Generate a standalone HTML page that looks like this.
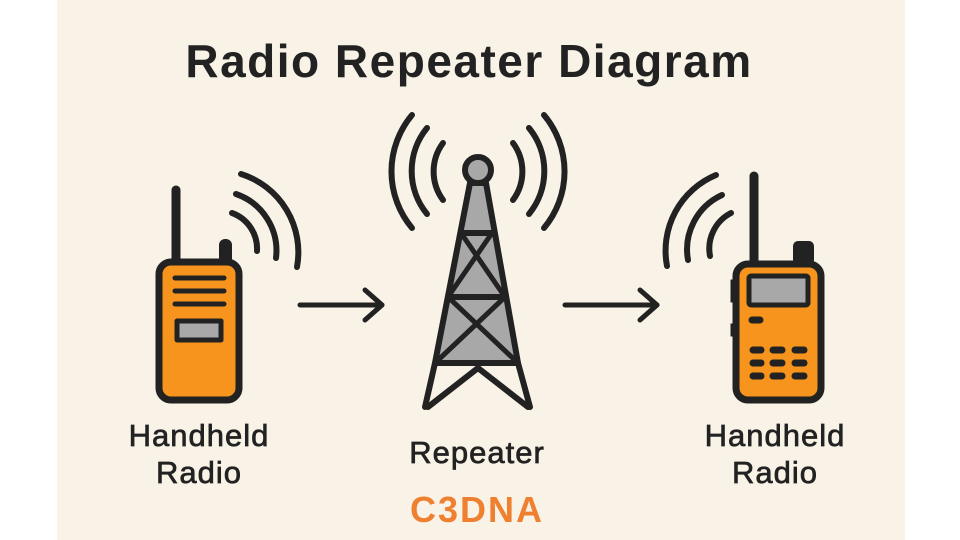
<!DOCTYPE html>
<html><head><meta charset="utf-8"><style>
html,body{margin:0;padding:0;background:#fff;}
svg{display:block;}
text{font-family:"Liberation Sans",sans-serif;}
</style></head><body>
<svg width="960" height="540" viewBox="0 0 960 540" xmlns="http://www.w3.org/2000/svg">
<rect x="57" y="0" width="848" height="540" fill="#f9f2e7"/>
<text x="469" y="77" font-size="46" font-weight="bold" fill="#222" text-anchor="middle" letter-spacing="1.5">Radio Repeater Diagram</text>

<g stroke="#222" stroke-linecap="round" stroke-linejoin="round" fill="none">
<!-- left radio -->
<line x1="176" y1="190" x2="176" y2="262" stroke-width="9"/>
<rect x="220" y="240" width="11" height="24" rx="5" fill="#222" stroke-width="2"/>
<rect x="159" y="262" width="80" height="138" rx="12" fill="#f7941d" stroke-width="7"/>
<line x1="175" y1="278" x2="224" y2="278" stroke-width="5"/>
<line x1="175" y1="291" x2="224" y2="291" stroke-width="5"/>
<line x1="175" y1="304" x2="224" y2="304" stroke-width="5"/>
<rect x="177" y="321" width="44" height="19" fill="#a8a8a8" stroke-width="5"/>
<path d="M232 213 A38 38 0 0 1 257 251" stroke-width="6"/>
<path d="M236 194 A60 60 0 0 1 276 258" stroke-width="6"/>
<path d="M241 174 A82 82 0 0 1 297 267" stroke-width="6"/>
<!-- arrows -->
<line x1="300" y1="305" x2="382" y2="305" stroke-width="5"/>
<polyline points="365,290 382,305 365,320" stroke-width="5"/>
<line x1="565" y1="305" x2="657" y2="305" stroke-width="5"/>
<polyline points="640,290 657,305 640,320" stroke-width="5"/>
<!-- tower -->
<polygon points="470,183 486,183 518,363 435,363" fill="#a8a8a8" stroke-width="6"/>
<line x1="461" y1="233" x2="492" y2="233" stroke-width="6"/>
<line x1="448" y1="297" x2="505" y2="297" stroke-width="6"/>
<line x1="461" y1="233" x2="505" y2="297" stroke-width="5"/>
<line x1="492" y1="233" x2="448" y2="297" stroke-width="5"/>
<line x1="448" y1="297" x2="518" y2="363" stroke-width="5"/>
<line x1="505" y1="297" x2="435" y2="363" stroke-width="5"/>
<line x1="435" y1="363" x2="425" y2="407" stroke-width="6"/>
<line x1="518" y1="363" x2="530" y2="407" stroke-width="6"/>
<polyline points="428,407 478,368 528,407" stroke-width="6"/>
<circle cx="478" cy="170" r="13" fill="#a8a8a8" stroke-width="6"/>
<path d="M443 143 A48 48 0 0 0 443 200" stroke-width="6"/>
<path d="M427 128 A68 68 0 0 0 427 214" stroke-width="6"/>
<path d="M412 115 A88 88 0 0 0 412 228" stroke-width="6"/>
<path d="M513 143 A48 48 0 0 1 513 200" stroke-width="6"/>
<path d="M529 128 A68 68 0 0 1 529 214" stroke-width="6"/>
<path d="M544 115 A88 88 0 0 1 544 228" stroke-width="6"/>
<!-- right radio -->
<line x1="754" y1="176" x2="754" y2="262" stroke-width="9"/>
<rect x="794" y="242" width="19" height="22" rx="4" fill="#222" stroke-width="2"/>
<rect x="731" y="280" width="5" height="22" fill="#222" stroke-width="1"/>
<rect x="731" y="324" width="5" height="12" fill="#222" stroke-width="1"/>
<rect x="736" y="264" width="85" height="136" rx="12" fill="#f7941d" stroke-width="7"/>
<rect x="749" y="276" width="59" height="29" rx="2" fill="#a8a8a8" stroke-width="5"/>
<line x1="752" y1="320" x2="760" y2="320" stroke-width="7"/>
<g stroke-width="7">
<line x1="753" y1="350" x2="761" y2="350"/><line x1="773" y1="350" x2="782" y2="350"/><line x1="795" y1="350" x2="804" y2="350"/>
<line x1="753" y1="363" x2="761" y2="363"/><line x1="773" y1="363" x2="782" y2="363"/><line x1="795" y1="363" x2="804" y2="363"/>
<line x1="753" y1="376" x2="761" y2="376"/><line x1="773" y1="376" x2="782" y2="376"/><line x1="795" y1="376" x2="804" y2="376"/>
</g>
<path d="M731 213 A40 40 0 0 0 710 256" stroke-width="6"/>
<path d="M722 195 A60 60 0 0 0 688 260" stroke-width="6"/>
<path d="M716 175 A82 82 0 0 0 667 266" stroke-width="6"/>
</g>

<g font-size="31" fill="#222" stroke="#222" stroke-width="0.7" text-anchor="middle" letter-spacing="1">
<text x="199" y="446">Handheld</text>
<text x="199" y="483">Radio</text>
<text x="477" y="463">Repeater</text>
<text x="775" y="446">Handheld</text>
<text x="775" y="483">Radio</text>
</g>
<text x="477" y="522" font-size="36" font-weight="bold" fill="#ef8030" text-anchor="middle" letter-spacing="2">C3DNA</text>
</svg>
</body></html>
